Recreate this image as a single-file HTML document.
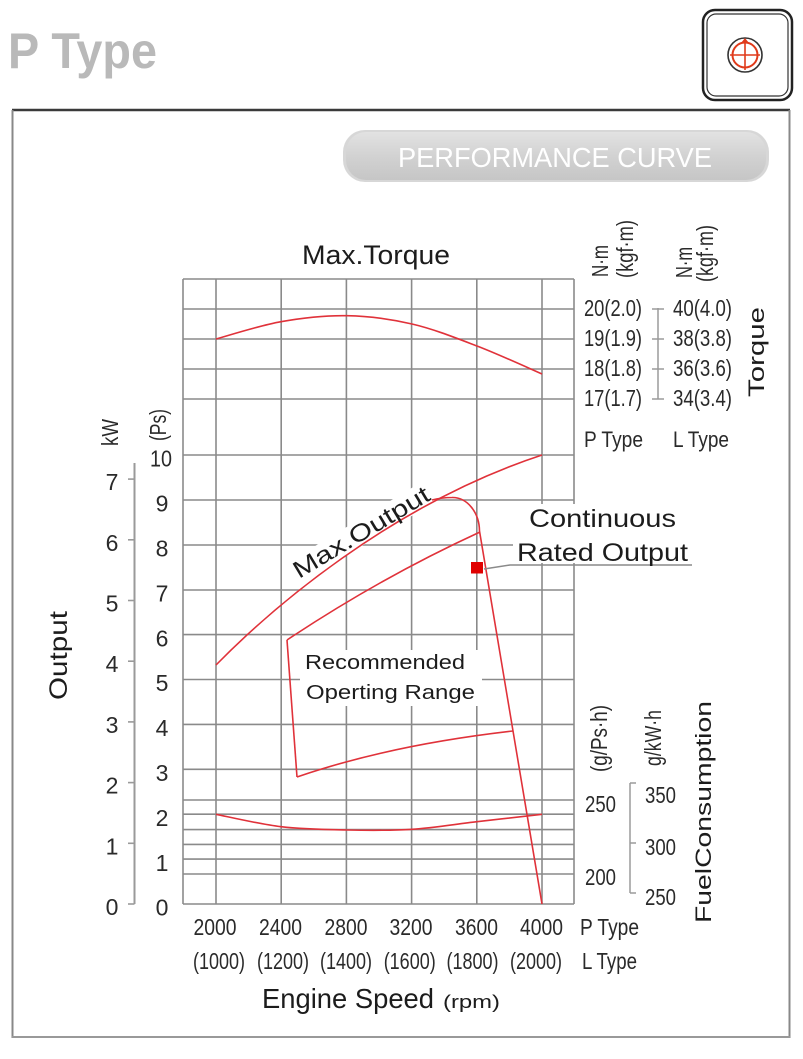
<!DOCTYPE html>
<html>
<head>
<meta charset="utf-8">
<style>
html,body{margin:0;padding:0;background:#fff;}
svg{display:block;}
text{font-family:"Liberation Sans",Arial,sans-serif;}
.n{font-size:23px;fill:#2a2a2a;}
.l{fill:#1c1c1c;}
</style>
</head>
<body>
<svg width="803" height="1059" viewBox="0 0 803 1059" xmlns="http://www.w3.org/2000/svg">
<defs>
<linearGradient id="bar" x1="0" y1="0" x2="0" y2="1">
<stop offset="0" stop-color="#e2e2e2"/>
<stop offset="0.5" stop-color="#d2d2d2"/>
<stop offset="1" stop-color="#c6c6c6"/>
</linearGradient>
</defs>
<rect x="0" y="0" width="803" height="1059" fill="#fff"/>

<!-- title -->
<text x="8" y="68" font-size="50" font-weight="bold" fill="#b9b9b9" textLength="149" lengthAdjust="spacingAndGlyphs">P Type</text>

<!-- icon -->
<rect x="703" y="10" width="89" height="90" rx="12" fill="none" stroke="#222" stroke-width="2.5"/>
<rect x="707" y="14" width="81" height="82" rx="9" fill="none" stroke="#333" stroke-width="1.2"/>
<circle cx="745" cy="55" r="17" fill="none" stroke="#333" stroke-width="1.6"/>
<circle cx="745" cy="55" r="12.5" fill="none" stroke="#e03a1a" stroke-width="2"/>
<line x1="745" y1="40" x2="745" y2="70" stroke="#e03a1a" stroke-width="1.6"/>
<line x1="730" y1="55" x2="760" y2="55" stroke="#e03a1a" stroke-width="1.6"/>
<path d="M741,43 L749,43 L745,38 Z" fill="#e03a1a"/>

<!-- outer frame -->
<line x1="12" y1="110" x2="790" y2="110" stroke="#3a3a3a" stroke-width="2.6"/>
<line x1="12.5" y1="110" x2="12.5" y2="1038" stroke="#888" stroke-width="2"/>
<line x1="789.5" y1="110" x2="789.5" y2="1038" stroke="#888" stroke-width="2"/>
<line x1="12" y1="1037" x2="790" y2="1037" stroke="#999" stroke-width="2"/>

<!-- performance curve bar -->
<rect x="343" y="130" width="426" height="52" rx="22" fill="#bdbdbd" opacity="0.6"/>
<rect x="346" y="132" width="420" height="48" rx="20" fill="url(#bar)"/>
<text x="398" y="167" font-size="28" fill="#fff" textLength="314" lengthAdjust="spacingAndGlyphs">PERFORMANCE CURVE</text>

<!-- grid -->
<g stroke="#8a8a8a" stroke-width="1.6" fill="none">
<line x1="183" y1="279" x2="574" y2="279"/>
<line x1="183" y1="309" x2="574" y2="309"/>
<line x1="183" y1="339" x2="574" y2="339"/>
<line x1="183" y1="369" x2="574" y2="369"/>
<line x1="183" y1="399" x2="574" y2="399"/>
<line x1="183" y1="455" x2="574" y2="455"/>
<line x1="183" y1="500" x2="574" y2="500"/>
<line x1="183" y1="545" x2="574" y2="545"/>
<line x1="183" y1="590" x2="574" y2="590"/>
<line x1="183" y1="634.6" x2="574" y2="634.6"/>
<line x1="183" y1="679.5" x2="574" y2="679.5"/>
<line x1="183" y1="724.4" x2="574" y2="724.4"/>
<line x1="183" y1="769.3" x2="574" y2="769.3"/>
<line x1="183" y1="800" x2="574" y2="800"/>
<line x1="183" y1="814.2" x2="574" y2="814.2"/>
<line x1="183" y1="829.6" x2="574" y2="829.6"/>
<line x1="183" y1="844.4" x2="574" y2="844.4"/>
<line x1="183" y1="859.1" x2="574" y2="859.1"/>
<line x1="183" y1="874" x2="574" y2="874"/>
<line x1="183" y1="904" x2="574" y2="904"/>
<line x1="183" y1="279" x2="183" y2="904"/>
<line x1="216" y1="279" x2="216" y2="904"/>
<line x1="281.2" y1="279" x2="281.2" y2="904"/>
<line x1="346.4" y1="279" x2="346.4" y2="904"/>
<line x1="411.6" y1="279" x2="411.6" y2="904"/>
<line x1="476.8" y1="279" x2="476.8" y2="904"/>
<line x1="542" y1="279" x2="542" y2="904"/>
<line x1="574" y1="279" x2="574" y2="904"/>
</g>

<!-- white masks behind in-chart labels -->
<rect x="300" y="650" width="182" height="56" fill="#fff"/>
<rect x="513" y="504" width="182" height="59" fill="#fff"/>
<g transform="translate(299,579) rotate(-31)"><rect x="-2" y="-20" width="160" height="24" fill="#fff"/></g>

<!-- curves -->
<g fill="none" stroke="#e0323a" stroke-width="1.6">
<path d="M216,339 C226.8,336.1 259.2,325.6 281,321.7 C302.8,317.8 325.2,315.3 347,315.7 C368.8,316.1 390.3,319 412,324 C433.7,329.05 455.3,337.7 477,346 C498.7,354.3 531.2,369.3 542,374"/>
<path d="M216,814.3 C226.8,816.4 259.2,824.1 281,826.7 C302.8,829.3 325.2,829.6 347,830 C368.8,830.4 390.3,830.7 412,829.3 C433.7,827.9 455.3,824.2 477,821.7 C498.7,819.2 531.2,815.5 542,814.3"/>
<path d="M216,665 C270,610 390,505 542,455"/>
<path d="M432,500 C440,498 446,497.5 452,497.5 A27,34 0 0 1 479.5,531 L542,904"/>
<path d="M287,640 Q380,578 480,532"/>
<path d="M287,640 L297,777"/>
<path d="M297,777 Q390,745 513,731"/>
</g>

<!-- rated output marker & leader -->
<polyline points="484,569 510,565 692,565" fill="none" stroke="#8a8a8a" stroke-width="1.5"/>
<rect x="471" y="562" width="12" height="11.5" fill="#e00000"/>

<!-- chart labels -->
<text class="l" x="302" y="264" font-size="27" textLength="148" lengthAdjust="spacingAndGlyphs">Max.Torque</text>
<text class="l" transform="translate(299,579) rotate(-31)" font-size="24" textLength="155" lengthAdjust="spacingAndGlyphs">Max.Output</text>
<text class="l" x="529" y="527" font-size="25" textLength="147" lengthAdjust="spacingAndGlyphs">Continuous</text>
<text class="l" x="517" y="561" font-size="25" textLength="171" lengthAdjust="spacingAndGlyphs">Rated Output</text>
<text class="l" x="305" y="669" font-size="20" textLength="160" lengthAdjust="spacingAndGlyphs">Recommended</text>
<text class="l" x="306" y="699" font-size="20" textLength="169" lengthAdjust="spacingAndGlyphs">Operting Range</text>

<!-- left axes -->
<line x1="134.5" y1="463" x2="134.5" y2="904" stroke="#9a9a9a" stroke-width="2"/>
<g stroke="#9a9a9a" stroke-width="1.6">
<line x1="128" y1="904" x2="134.5" y2="904"/>
<line x1="128" y1="843.3" x2="134.5" y2="843.3"/>
<line x1="128" y1="782.6" x2="134.5" y2="782.6"/>
<line x1="128" y1="721.9" x2="134.5" y2="721.9"/>
<line x1="128" y1="661.2" x2="134.5" y2="661.2"/>
<line x1="128" y1="600.5" x2="134.5" y2="600.5"/>
<line x1="128" y1="539.8" x2="134.5" y2="539.8"/>
<line x1="128" y1="479.1" x2="134.5" y2="479.1"/>
</g>
<g class="n" text-anchor="middle">
<text x="112" y="915">0</text>
<text x="112" y="854.3">1</text>
<text x="112" y="793.6">2</text>
<text x="112" y="732.9">3</text>
<text x="112" y="672.2">4</text>
<text x="112" y="611.5">5</text>
<text x="112" y="550.8">6</text>
<text x="112" y="490.1">7</text>
<text x="162" y="915.7">0</text>
<text x="162" y="870.8">1</text>
<text x="162" y="825.9">2</text>
<text x="162" y="781">3</text>
<text x="162" y="736.1">4</text>
<text x="162" y="691.2">5</text>
<text x="162" y="646.3">6</text>
<text x="162" y="601.4">7</text>
<text x="162" y="556.5">8</text>
<text x="162" y="511.6">9</text>
<text x="161" y="466.7" textLength="22" lengthAdjust="spacingAndGlyphs">10</text>
</g>
<text class="n" transform="translate(118,446) rotate(-90)" font-size="22" textLength="27" lengthAdjust="spacingAndGlyphs">kW</text>
<text class="n" transform="translate(166,441) rotate(-90)" font-size="19" textLength="32" lengthAdjust="spacingAndGlyphs">(Ps)</text>
<text class="l" transform="translate(67,700) rotate(-90)" font-size="25" textLength="89" lengthAdjust="spacingAndGlyphs">Output</text>

<!-- torque axis -->
<text class="n" transform="translate(608,277) rotate(-90)" font-size="18" textLength="32" lengthAdjust="spacingAndGlyphs">N·m</text>
<text class="n" transform="translate(633,278) rotate(-90)" font-size="18" textLength="58" lengthAdjust="spacingAndGlyphs">(kgf·m)</text>
<text class="n" transform="translate(692,278) rotate(-90)" font-size="18" textLength="31" lengthAdjust="spacingAndGlyphs">N·m</text>
<text class="n" transform="translate(713,282) rotate(-90)" font-size="18" textLength="57" lengthAdjust="spacingAndGlyphs">(kgf·m)</text>
<g class="n">
<text x="584" y="316" textLength="58" lengthAdjust="spacingAndGlyphs">20(2.0)</text>
<text x="584" y="346" textLength="58" lengthAdjust="spacingAndGlyphs">19(1.9)</text>
<text x="584" y="376" textLength="58" lengthAdjust="spacingAndGlyphs">18(1.8)</text>
<text x="584" y="406" textLength="58" lengthAdjust="spacingAndGlyphs">17(1.7)</text>
<text x="673" y="316" textLength="59" lengthAdjust="spacingAndGlyphs">40(4.0)</text>
<text x="673" y="346" textLength="59" lengthAdjust="spacingAndGlyphs">38(3.8)</text>
<text x="673" y="376" textLength="59" lengthAdjust="spacingAndGlyphs">36(3.6)</text>
<text x="673" y="406" textLength="59" lengthAdjust="spacingAndGlyphs">34(3.4)</text>
<text x="584" y="447" font-size="22" textLength="59" lengthAdjust="spacingAndGlyphs">P Type</text>
<text x="673" y="447" font-size="22" textLength="56" lengthAdjust="spacingAndGlyphs">L Type</text>
</g>
<g stroke="#9a9a9a" stroke-width="1.5">
<line x1="658" y1="308" x2="658" y2="399"/>
<line x1="652" y1="309" x2="664" y2="309"/>
<line x1="652" y1="339" x2="664" y2="339"/>
<line x1="652" y1="369" x2="664" y2="369"/>
<line x1="652" y1="399" x2="664" y2="399"/>
</g>
<text class="l" transform="translate(764,397) rotate(-90)" font-size="22" textLength="90" lengthAdjust="spacingAndGlyphs">Torque</text>

<!-- fuel axis -->
<text class="n" transform="translate(607,772) rotate(-90)" font-size="18" textLength="67" lengthAdjust="spacingAndGlyphs">(g/Ps·h)</text>
<text class="n" transform="translate(661,766) rotate(-90)" font-size="17" textLength="56" lengthAdjust="spacingAndGlyphs">g/kW·h</text>
<g class="n">
<text x="585" y="812" textLength="31" lengthAdjust="spacingAndGlyphs">250</text>
<text x="585" y="885" textLength="31" lengthAdjust="spacingAndGlyphs">200</text>
<text x="645" y="803" textLength="31" lengthAdjust="spacingAndGlyphs">350</text>
<text x="645" y="855" textLength="31" lengthAdjust="spacingAndGlyphs">300</text>
<text x="645" y="905" textLength="31" lengthAdjust="spacingAndGlyphs">250</text>
</g>
<g stroke="#9a9a9a" stroke-width="1.5">
<line x1="630" y1="783" x2="630" y2="893"/>
<line x1="630" y1="783" x2="636" y2="783"/>
<line x1="630" y1="843" x2="636" y2="843"/>
<line x1="630" y1="893" x2="636" y2="893"/>
</g>
<text class="l" transform="translate(711,923) rotate(-90)" font-size="22" textLength="222" lengthAdjust="spacingAndGlyphs">FuelConsumption</text>

<!-- bottom axis -->
<g class="n" text-anchor="middle">
<text x="215" y="935" textLength="43" lengthAdjust="spacingAndGlyphs">2000</text>
<text x="280.5" y="935" textLength="43" lengthAdjust="spacingAndGlyphs">2400</text>
<text x="346" y="935" textLength="43" lengthAdjust="spacingAndGlyphs">2800</text>
<text x="411" y="935" textLength="43" lengthAdjust="spacingAndGlyphs">3200</text>
<text x="476.5" y="935" textLength="43" lengthAdjust="spacingAndGlyphs">3600</text>
<text x="541.5" y="935" textLength="43" lengthAdjust="spacingAndGlyphs">4000</text>
<text x="219" y="969" textLength="52" lengthAdjust="spacingAndGlyphs">(1000)</text>
<text x="283" y="969" textLength="52" lengthAdjust="spacingAndGlyphs">(1200)</text>
<text x="346" y="969" textLength="52" lengthAdjust="spacingAndGlyphs">(1400)</text>
<text x="409.7" y="969" textLength="52" lengthAdjust="spacingAndGlyphs">(1600)</text>
<text x="472.5" y="969" textLength="52" lengthAdjust="spacingAndGlyphs">(1800)</text>
<text x="536" y="969" textLength="52" lengthAdjust="spacingAndGlyphs">(2000)</text>
</g>
<text class="n" x="580" y="935" textLength="59" lengthAdjust="spacingAndGlyphs">P Type</text>
<text class="n" x="582" y="969" textLength="55" lengthAdjust="spacingAndGlyphs">L Type</text>
<text class="l" x="262" y="1008" font-size="28" textLength="172" lengthAdjust="spacingAndGlyphs">Engine Speed</text>
<text class="l" x="443" y="1008" font-size="18" textLength="57" lengthAdjust="spacingAndGlyphs">(rpm)</text>
</svg>
</body>
</html>
